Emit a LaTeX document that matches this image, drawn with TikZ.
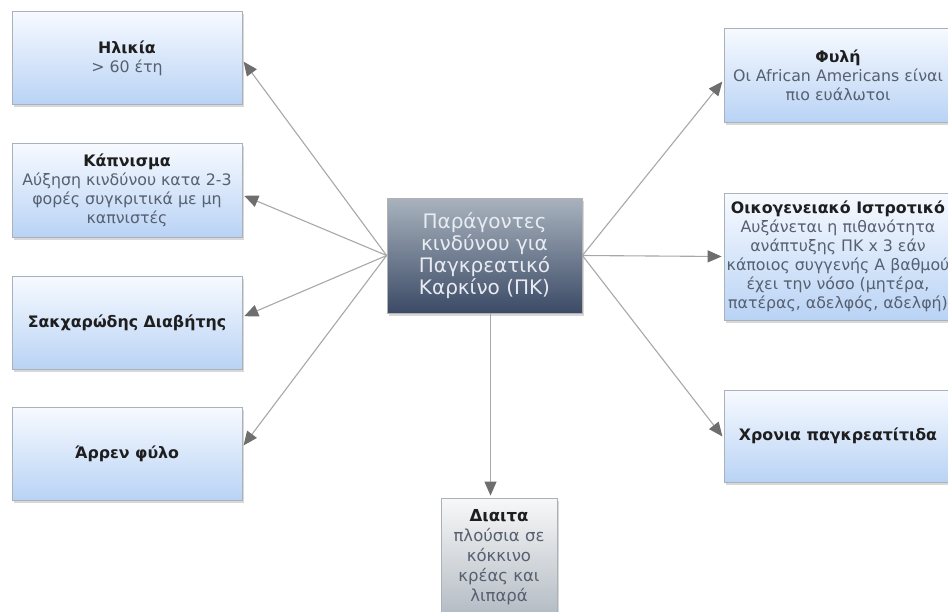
\documentclass[tikz,border=0pt]{standalone}
\usepackage{fontspec}
\setmainfont{DejaVu Sans}
\usetikzlibrary{arrows.meta,shadows,calc}
\definecolor{boxtop}{HTML}{F7FAFF}
\definecolor{boxbot}{HTML}{B9D3F5}
\definecolor{boxborder}{HTML}{A9B1BA}
\definecolor{titletext}{HTML}{1E1E1E}
\definecolor{bodytext}{HTML}{566070}
\definecolor{centertop}{HTML}{A9B3BE}
\definecolor{centerbot}{HTML}{3B4A66}
\definecolor{centertext}{HTML}{E8ECF2}
\definecolor{greytop}{HTML}{F8F8F8}
\definecolor{greybot}{HTML}{B3BBC3}
\definecolor{linecol}{HTML}{A8A8A8}
\definecolor{tipcol}{HTML}{6E6E6E}
\begin{document}
\begin{tikzpicture}[x=1pt,y=-1pt,
  box/.style={draw=boxborder, line width=0.8pt, top color=boxtop, bottom color=boxbot,
    drop shadow={shadow xshift=2pt,shadow yshift=-2.5pt,fill=black!30},
    align=center, inner sep=2pt, text=bodytext,
    font=\fontsize{15.8}{19}\selectfont},
  leftbox/.style={box, minimum width=230pt, minimum height=93pt},
  rightbox/.style={box, minimum width=228pt},
  centerbox/.style={draw=gray!60, line width=0.8pt, top color=centertop, bottom color=centerbot,
    drop shadow={shadow xshift=2pt,shadow yshift=-2.5pt,fill=black!30},
    align=center, text=centertext, minimum width=195pt, minimum height=115pt,
    font=\fontsize{20}{22}\selectfont},
  greybox/.style={box, top color=greytop, bottom color=greybot, minimum width=116pt, minimum height=118pt,
    font=\fontsize{16.5}{20}\selectfont},
  conn/.style={draw=linecol, line width=1.1pt, -{Triangle[length=14pt,width=12pt,fill=tipcol,color=tipcol]}, shorten >=2pt}
]
\path[use as bounding box, clip] (0,0) rectangle (948,611);
\fill[white] (0,0) rectangle (948,611);

\node[leftbox] (h) at (127,58) {{\color{titletext}\bfseries Ηλικία}\\> 60 έτη};
\node[leftbox, minimum height=94pt] (k) at (127,190) {{\color{titletext}\bfseries Κάπνισμα}\\Αύξηση κινδύνου κατα 2-3\\φορές συγκριτικά με μη\\καπνιστές};
\node[leftbox] (s) at (127,322.5) {{\color{titletext}\bfseries Σακχαρώδης Διαβήτης}};
\node[leftbox] (a) at (127,453.5) {{\color{titletext}\bfseries Άρρεν φύλο}};

\node[rightbox, minimum height=94pt] (f) at (838,75) {{\color{titletext}\bfseries Φυλή}\\Οι African Americans είναι\\πιο ευάλωτοι};
\node[rightbox, minimum height=127pt] (o) at (838,256.5) {{\color{titletext}\bfseries Οικογενειακό Ιστροτικό}\\Αυξάνεται η πιθανότητα\\ανάπτυξης ΠΚ x 3 εάν\\κάποιος συγγενής Α βαθμού\\έχει την νόσο (μητέρα,\\πατέρας, αδελφός, αδελφή)};
\node[rightbox, minimum height=92pt] (x) at (838,436) {{\color{titletext}\bfseries Χρονια παγκρεατίτιδα}};

\node[greybox] (d) at (499,557) {{\color{titletext}\bfseries Διαιτα}\\πλούσια σε\\κόκκινο\\κρέας και\\λιπαρά};

\node[centerbox] (c) at (484.5,255.5) {Παράγοντες\\κινδύνου για\\Παγκρεατικό\\Καρκίνο (ΠΚ)};

\draw[conn] (c.west) -- ([yshift=-2pt]h.east);
\draw[conn] (c.west) -- ([yshift=-5pt]k.east);
\draw[conn] (c.west) -- ([yshift=5.5pt]s.east);
\draw[conn] (c.west) -- ([yshift=6.5pt]a.east);
\draw[conn] (c.east) -- ([yshift=-5pt]f.west);
\draw[conn] (c.east) -- (o.west);
\draw[conn] (c.east) -- ([yshift=-2pt]x.west);
\coordinate (cs) at ([xshift=6pt]c.south);
\draw[conn] (cs) -- (cs |- d.north);
\end{tikzpicture}
\end{document}
